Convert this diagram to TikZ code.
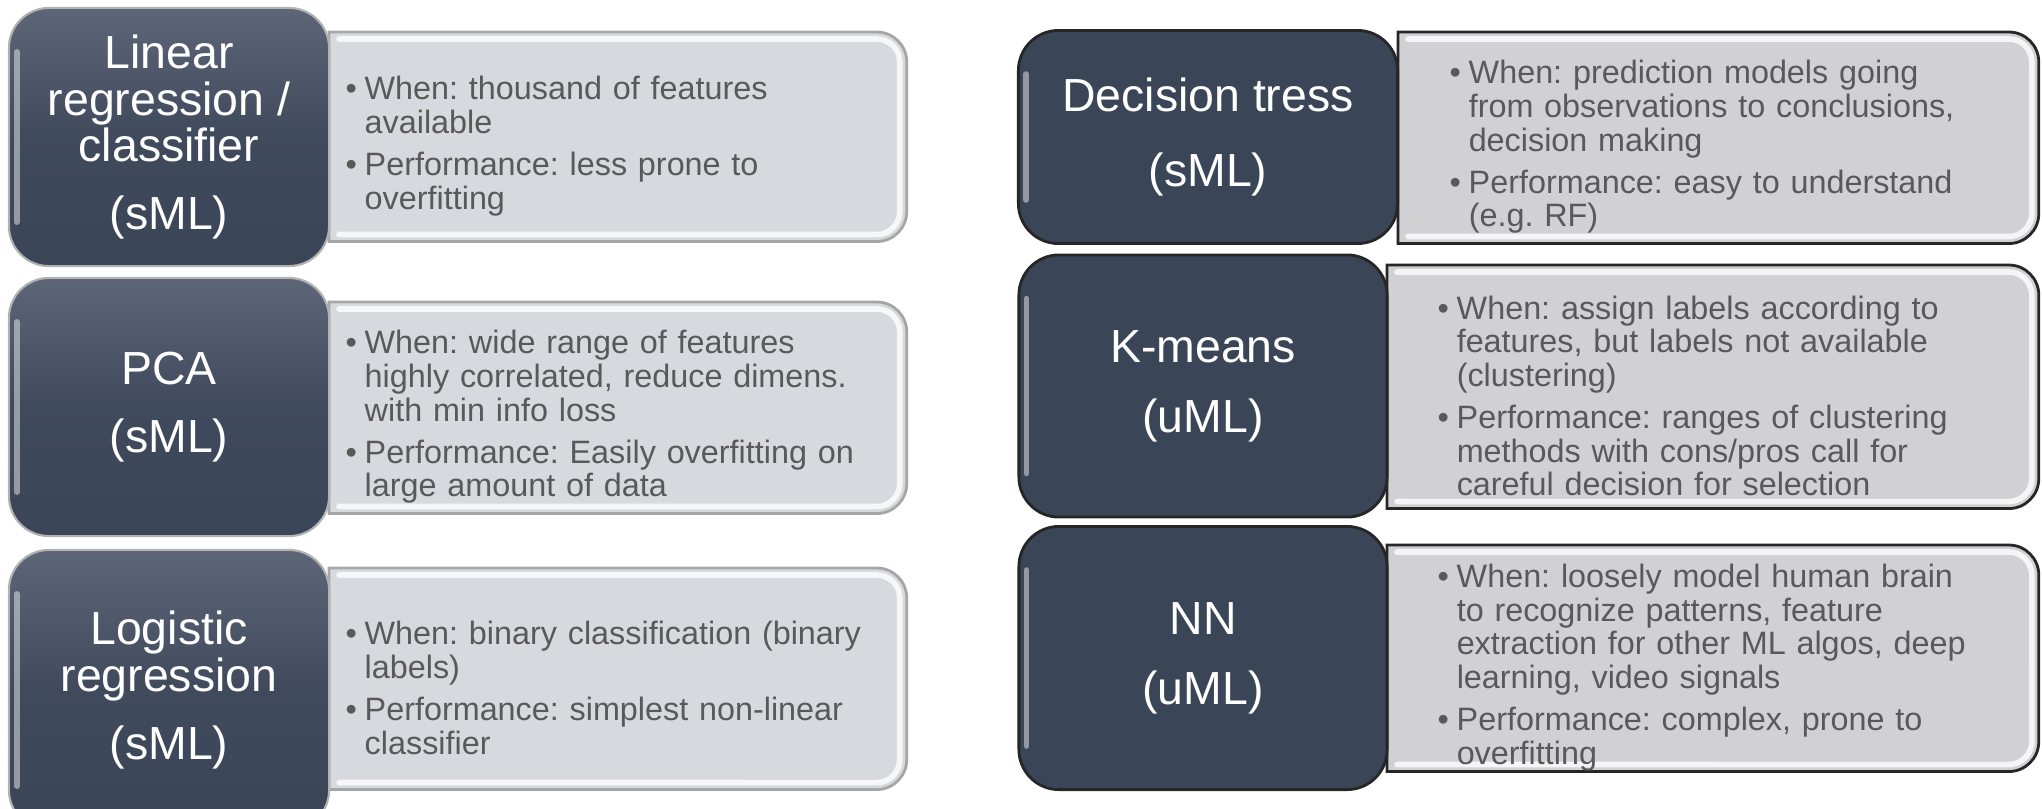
\documentclass[tikz,border=0pt]{standalone}
\usepackage{fontspec}
\setmainfont{Liberation Sans}
\usetikzlibrary{positioning,calc}

\definecolor{slate}{HTML}{3B4558}
\definecolor{slatehi}{HTML}{5D6677}
\definecolor{mist}{HTML}{D6D9DD}
\definecolor{fog}{HTML}{D1D1D4}
\definecolor{ink}{HTML}{595959}

\newlength{\bulw}
\setlength{\bulw}{0.19cm}
\newcommand{\itm}{\par\hangindent=\bulw\hangafter=1\noindent\makebox[\bulw][l]{\textbullet}}

\begin{document}
\frenchspacing
\begin{tikzpicture}[
    x=0.01cm, y=-0.01cm,
    namebox/.style={rectangle, rounded corners=0.4cm, text=white, align=center, inner sep=0pt,
        font=\fontsize{13.2}{13.3}\selectfont},
    leftname/.style={namebox, top color=slatehi, bottom color=slate, middle color=slate!85!slatehi, draw=gray!60, line width=0.6pt},
    rightname/.style={namebox, fill=slate, draw=black!85, line width=0.8pt},
    notebox/.style={rectangle, inner sep=0pt, anchor=north west},
    notes/.style={anchor=west, inner sep=0pt, text width=5.8cm, align=left, text=ink,
        font=\fontsize{9.2}{9.6}\selectfont, execute at begin node={\setlength{\parskip}{2.3pt}\frenchspacing}},
    glint/.style={white, opacity=0.45, line width=1.6pt, line cap=round},
]
    \useasboundingbox (0,0) rectangle (2042,808);
    \clip (0,0) rectangle (2042,808);
    \fill[white] (0,0) rectangle (2042,808);

    % detail panels
    \node[notebox, minimum width=5.76cm, minimum height=2.08cm] (linbox) at (329,32) {};
    \node[notebox, minimum width=5.76cm, minimum height=2.10cm] (pcabox) at (329,302) {};
    \node[notebox, minimum width=5.76cm, minimum height=2.20cm] (logbox) at (329,568) {};
    \node[notebox, minimum width=6.39cm, minimum height=2.10cm] (dtbox) at (1398,32) {};
    \node[notebox, minimum width=6.50cm, minimum height=2.42cm] (kmbox) at (1387,265) {};
    \node[notebox, minimum width=6.50cm, minimum height=2.25cm] (nnbox) at (1387,545) {};

    \foreach \b/\c/\e in {linbox/mist/gray!70, pcabox/mist/gray!70, logbox/mist/gray!70,
                          dtbox/fog/black!85, kmbox/fog/black!85, nnbox/fog/black!85}
        \draw[fill=\c, draw=\e, line width=0.8pt] (\b.north west) -- ([xshift=-0.3cm]\b.north east)
            arc[start angle=90, end angle=0, radius=0.3cm] -- ([yshift=0.3cm]\b.south east)
            arc[start angle=0, end angle=-90, radius=0.3cm] -- (\b.south west) -- cycle;

    \foreach \b in {linbox,pcabox,logbox,dtbox,kmbox,nnbox}
        \draw[glint, opacity=0.8] ([shift={(10,7)}]\b.north west) -- ([shift={(-30,7)}]\b.north east)
            arc[start angle=90, end angle=0, radius=0.23cm] -- ([shift={(-7,-30)}]\b.south east)
            arc[start angle=0, end angle=-90, radius=0.23cm] -- ([shift={(10,-7)}]\b.south west);

    % method names
    \node[leftname, minimum width=3.20cm, minimum height=2.58cm] (lin) at (169,137) {Linear\\ regression /\\ classifier\\[0.21cm](sML)};
    \node[leftname, minimum width=3.20cm, minimum height=2.58cm] (pca) at (169,407) {PCA\\[0.21cm](sML)};
    \node[leftname, minimum width=3.20cm, minimum height=2.80cm] (logit) at (169,690) {Logistic\\ regression\\[0.21cm](sML)};
    \node[rightname, minimum width=3.79cm, minimum height=2.13cm] (dtree) at (1208,137) {Decision tress\\[0.28cm](sML)};
    \node[rightname, minimum width=3.68cm, minimum height=2.62cm] (kmeans) at (1203,386) {K-means\\[0.23cm](uML)};
    \node[rightname, minimum width=3.68cm, minimum height=2.63cm] (nn) at (1203,658) {NN\\[0.23cm](uML)};

    \foreach \d in {lin,pca,logit,dtree,kmeans,nn}
        \draw[glint] ([shift={(9,45)}]\d.north west) -- ([shift={(9,-45)}]\d.south west);

    % bullet texts
    \node[notes, right=0.16cm of linbox.west] (lintxt) {\itm When: thousand of features\newline available
        \itm Performance: less prone to\newline overfitting\par};
    \node[notes, right=0.16cm of pcabox.west] (pcatxt) {\itm When: wide range of features\newline highly correlated, reduce dimens.\newline with min info loss
        \itm Performance: Easily overfitting on\newline large amount of data\par};
    \node[notes, right=0.16cm of logbox.west] (logtxt) {\itm When: binary classification (binary\newline labels)
        \itm Performance: simplest non-linear\newline classifier\par};
    \node[notes, right=0.51cm of dtbox.west] (dttxt) {\itm When: prediction models going\newline from observations to conclusions,\newline decision making
        \itm Performance: easy to understand\newline (e.g. RF)\par};
    \node[notes, right=0.50cm of kmbox.west] (kmtxt) {\itm When: assign labels according to\newline features, but labels not available\newline (clustering)
        \itm Performance: ranges of clustering\newline methods with cons/pros call for\newline careful decision for selection\par};
    \node[notes, right=0.50cm of nnbox.west] (nntxt) {\itm When: loosely model human brain\newline to recognize patterns, feature\newline extraction for other ML algos, deep\newline learning, video signals
        \itm Performance: complex, prone to\newline overfitting\par};
\end{tikzpicture}
\end{document}
